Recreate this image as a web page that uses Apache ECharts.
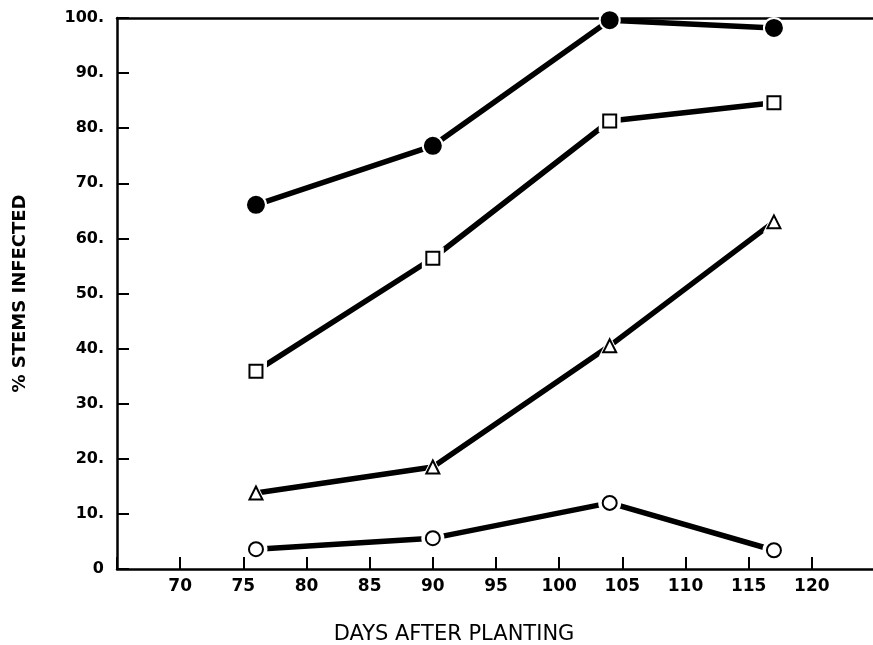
<!DOCTYPE html>
<html>
<head>
<meta charset="utf-8">
<script src="https://cdn.jsdelivr.net/npm/echarts@6/dist/echarts.min.js"></script>
<style>html,body{margin:0;padding:0;background:#fff}#c{width:873px;height:645px}</style>
</head>
<body>
<div id="c"></div>
<script>
var days = [76, 90, 104, 117];
var filledCircle = [66.1, 76.8, 99.6, 98.2];
var openSquare = [35.9, 56.4, 81.3, 84.6];
var openTriangle = [13.8, 18.5, 40.5, 63.0];
var openCircle = [3.6, 5.6, 12.0, 3.4];
var xTicks = [70, 75, 80, 85, 90, 95, 100, 105, 110, 115, 120];
var yTicks = [0, 10, 20, 30, 40, 50, 60, 70, 80, 90, 100];

function pts(v){ return days.map(function(d,i){ return [d, v[i]]; }); }

var groups = [
  {name:'filled', data: filledCircle, symbol:'circle', size:16, halo:6, fill:'#000'},
  {name:'square', data: openSquare, symbol:'rect', size:13, halo:9, fill:'#fff'},
  {name:'triangle', data: openTriangle, symbol:'triangle', size:13, halo:9, fill:'#fff'},
  {name:'circle', data: openCircle, symbol:'circle', size:14, halo:9, fill:'#fff'}
];

var series = [];
groups.forEach(function(g){
  series.push({type:'line', data: pts(g.data), symbol:'none', z:2,
    lineStyle:{color:'#000', width:5.5}});
  series.push({type:'scatter', data: pts(g.data), symbol:g.symbol, symbolSize:g.size+g.halo, z:3,
    itemStyle:{color:'#fff', opacity:1}, silent:true});
  series.push({type:'scatter', data: pts(g.data), symbol:g.symbol, symbolSize:g.size, z:4,
    itemStyle:{color:g.fill, borderColor:'#000', borderWidth:2, opacity:1}});
});

var chart = echarts.init(document.getElementById('c'));
chart.setOption({
  animation:false,
  backgroundColor:'#fff',
  grid:{left:117, right:-2, top:18, bottom:76, outerBoundsMode:'none', containLabel:false},
  xAxis:[{
    type:'value', min:65, max:125, interval:5, position:'bottom',
    axisLine:{show:true, lineStyle:{color:'#000', width:2.5}},
    axisTick:{show:true, inside:true, length:12, lineStyle:{color:'#000', width:2}},
    axisLabel:{color:'#000', fontFamily:'DejaVu Sans', fontWeight:'bold', fontSize:17, margin:9,
      formatter:function(v){ return xTicks.indexOf(v)>=0 ? String(v) : ''; }},
    splitLine:{show:false},
    name:'DAYS AFTER PLANTING', nameLocation:'middle', nameGap:55,
    nameTextStyle:{color:'#000', fontFamily:'DejaVu Sans', fontSize:21, padding:[0,84,0,0]}
  },{
    type:'value', min:65, max:125, position:'top',
    axisLine:{show:true, lineStyle:{color:'#000', width:2.5}},
    axisTick:{show:false}, axisLabel:{show:false}, splitLine:{show:false}
  }],
  yAxis:{
    type:'value', min:0, max:100, interval:10,
    axisLine:{show:true, lineStyle:{color:'#000', width:2.5}},
    axisTick:{show:true, inside:true, length:12, lineStyle:{color:'#000', width:2}},
    axisLabel:{color:'#000', fontFamily:'DejaVu Sans', fontWeight:'bold', fontSize:16, margin:13,
      formatter:function(v){ return v===0 ? '0' : v + '.'; }},
    splitLine:{show:false},
    name:'% STEMS INFECTED', nameLocation:'middle', nameGap:88, nameRotate:90,
    nameTextStyle:{color:'#000', fontFamily:'DejaVu Sans', fontWeight:'bold', fontSize:18}
  },
  series: series
});
</script>
</body>
</html>
